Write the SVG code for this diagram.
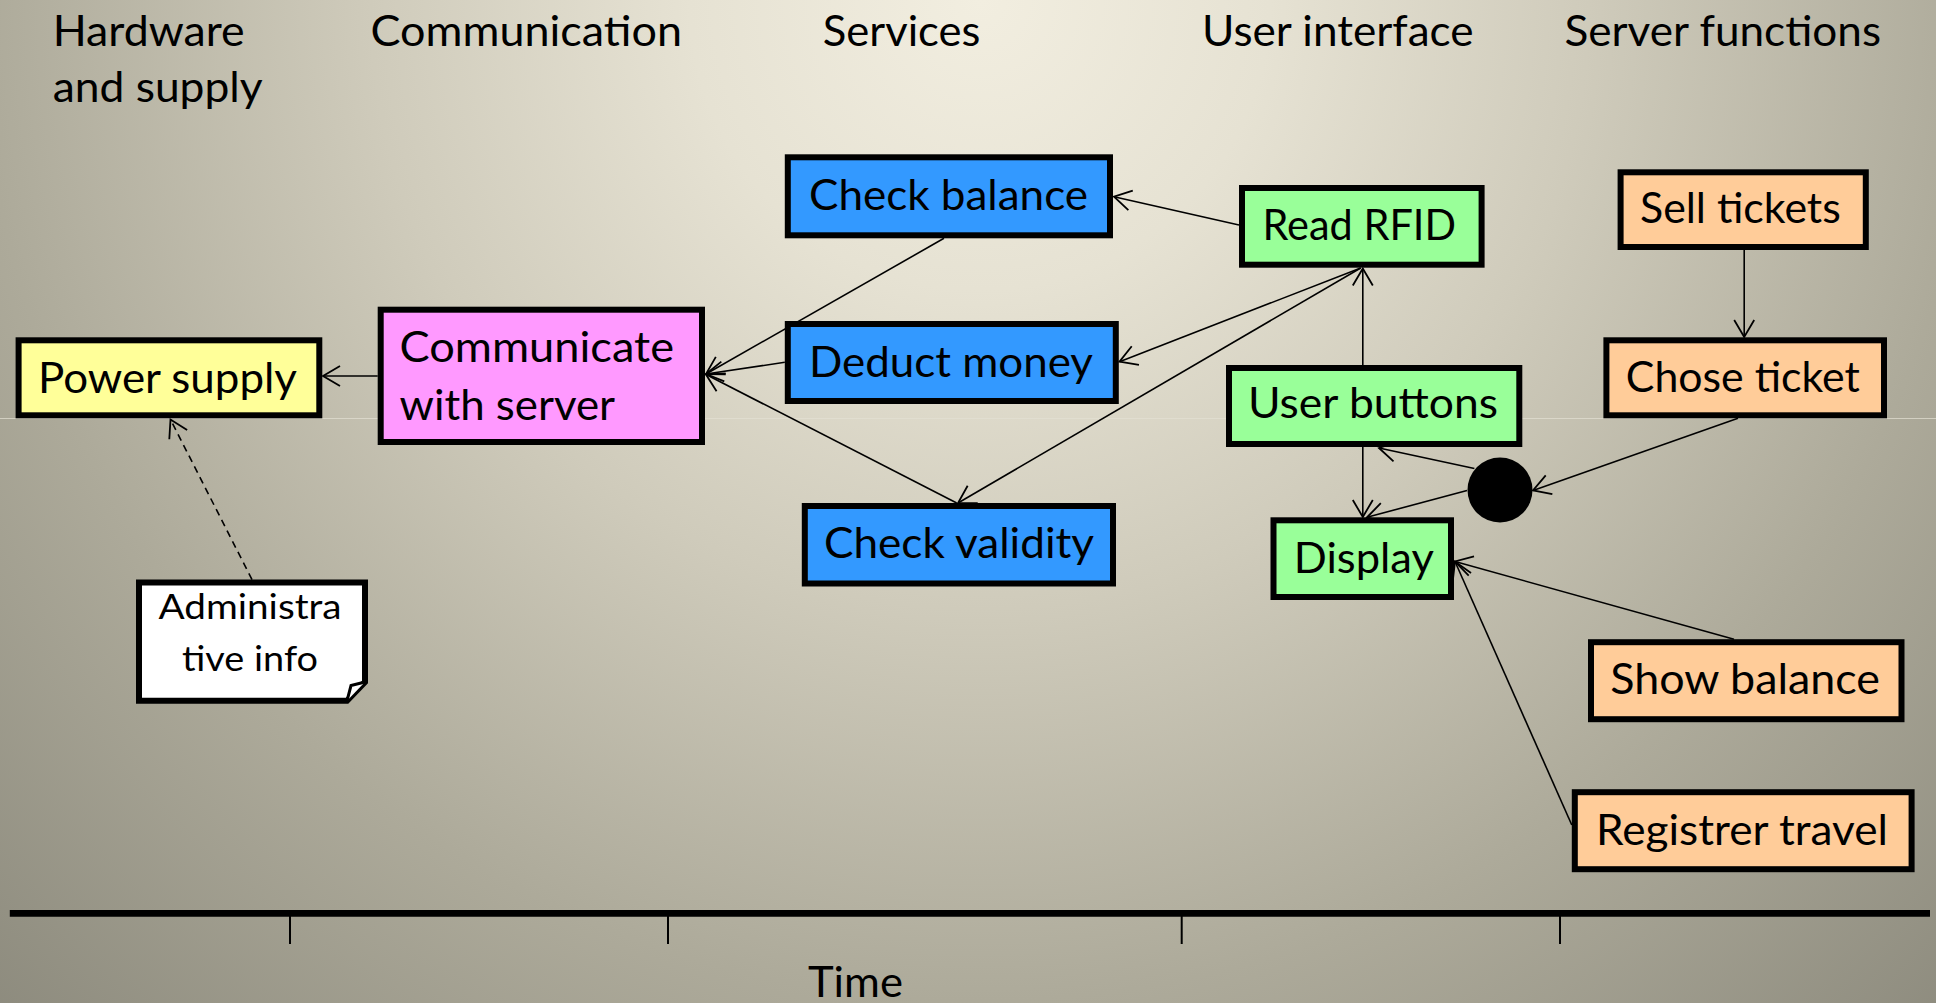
<svg xmlns="http://www.w3.org/2000/svg" width="1936" height="1003" viewBox="0 0 1936 1003">
<defs>
<radialGradient id="bg" gradientUnits="userSpaceOnUse" cx="980" cy="0" r="1450">
<stop offset="0" stop-color="#F2EEE0"/>
<stop offset="0.2" stop-color="#E6E2D3"/>
<stop offset="0.42" stop-color="#CFCBBB"/>
<stop offset="0.69" stop-color="#ADAA9A"/>
<stop offset="1" stop-color="#8A887B"/>
</radialGradient>
<marker id="arr" markerUnits="userSpaceOnUse" viewBox="0 0 20 24" markerWidth="20" markerHeight="24" refX="18" refY="12" orient="auto">
<path d="M1,2 L18,12 L1,22" fill="none" stroke="#000" stroke-width="1.8"/>
</marker>
<style>
.t{font-family:Lato,"Liberation Sans",sans-serif;font-size:42px;fill:#000}
.s{font-family:Lato,"Liberation Sans",sans-serif;font-size:35px;fill:#000}
.box{stroke:#000;stroke-width:6}
.y{fill:#FFFF99}.p{fill:#FF99FF}.b{fill:#3399FF}.g{fill:#99FF99}.o{fill:#FFCC99}
.c{fill:none;stroke:#000;stroke-width:1.6;marker-end:url(#arr)}
</style>
</defs>
<rect x="0" y="0" width="1936" height="1003" fill="url(#bg)"/>
<line x1="0" y1="418.5" x2="1936" y2="418.5" stroke="#E4E1D4" stroke-width="1" opacity="0.7"/>

<g id="headers">
<text class="t" x="52.7" y="46" textLength="192" lengthAdjust="spacingAndGlyphs">Hardware</text>
<text class="t" x="52.7" y="102" textLength="210" lengthAdjust="spacingAndGlyphs">and supply</text>
<text class="t" x="370.5" y="46" textLength="311.5" lengthAdjust="spacingAndGlyphs">Communication</text>
<text class="t" x="822.8" y="46" textLength="157.6" lengthAdjust="spacingAndGlyphs">Services</text>
<text class="t" x="1202" y="46" textLength="271.6" lengthAdjust="spacingAndGlyphs">User interface</text>
<text class="t" x="1564.5" y="46" textLength="316.5" lengthAdjust="spacingAndGlyphs">Server functions</text>
</g>

<g id="timeline">
<line x1="9.8" y1="913.3" x2="1930" y2="913.3" stroke="#000" stroke-width="6.7"/>
<g stroke="#000" stroke-width="2">
<line x1="290" y1="916" x2="290" y2="944"/>
<line x1="668" y1="916" x2="668" y2="944"/>
<line x1="1181.7" y1="916" x2="1181.7" y2="944"/>
<line x1="1560" y1="916" x2="1560" y2="944"/>
</g>
<text class="t" x="808" y="996.7" textLength="95" lengthAdjust="spacingAndGlyphs">Time</text>
</g>

<g id="connectors">
<line class="c" x1="377.7" y1="376" x2="323" y2="376"/>
<line class="c" x1="1239" y1="225" x2="1114" y2="196.7"/>
<line class="c" x1="944" y1="238.3" x2="706" y2="374"/>
<line class="c" x1="784.8" y1="362.3" x2="706" y2="374"/>
<line class="c" x1="956.7" y1="503" x2="706" y2="374.5"/>
<line class="c" x1="1360.7" y1="268" x2="1119.5" y2="361.7"/>
<line class="c" x1="1360.7" y1="268" x2="958" y2="503"/>
<line class="c" x1="1362.8" y1="365" x2="1362.8" y2="268.5"/>
<line class="c" x1="1744.2" y1="250" x2="1744.2" y2="337"/>
<line class="c" x1="1738" y1="418.3" x2="1533" y2="490.4"/>
<line class="c" x1="1474.4" y1="468.5" x2="1379" y2="448"/>
<line class="c" x1="1467" y1="490.4" x2="1367" y2="517.3"/>
<line class="c" x1="1362.8" y1="447" x2="1362.8" y2="517"/>
<line class="c" x1="1734" y1="639.2" x2="1455" y2="561.5"/>
<line class="c" x1="1571.8" y1="825" x2="1455" y2="561.5"/>
<line class="c" x1="252" y1="579.6" x2="170.5" y2="419.5" stroke-dasharray="7,5"/>
</g>

<g id="power-supply">
<rect class="box y" x="18.6" y="340.3" width="300.7" height="75"/>
<text class="t" x="38" y="393" textLength="259" lengthAdjust="spacingAndGlyphs">Power supply</text>
</g>
<g id="communicate">
<rect class="box p" x="380.7" y="309.7" width="321.3" height="132.3"/>
<text class="t" x="399.5" y="361.7" textLength="274.5" lengthAdjust="spacingAndGlyphs">Communicate</text>
<text class="t" x="399.5" y="420" textLength="215.5" lengthAdjust="spacingAndGlyphs">with server</text>
</g>
<g id="check-balance">
<rect class="box b" x="787.8" y="157.3" width="322.2" height="78"/>
<text class="t" x="809" y="210" textLength="279" lengthAdjust="spacingAndGlyphs">Check balance</text>
</g>
<g id="deduct-money">
<rect class="box b" x="787.8" y="324" width="328" height="77"/>
<text class="t" x="809" y="377" textLength="284" lengthAdjust="spacingAndGlyphs">Deduct money</text>
</g>
<g id="check-validity">
<rect class="box b" x="804.8" y="506" width="308.2" height="77.5"/>
<text class="t" x="824" y="557.7" textLength="270" lengthAdjust="spacingAndGlyphs">Check validity</text>
</g>
<g id="read-rfid">
<rect class="box g" x="1242" y="188" width="239.6" height="76.7"/>
<text class="t" x="1262.5" y="240" textLength="193.5" lengthAdjust="spacingAndGlyphs">Read RFID</text>
</g>
<g id="user-buttons">
<rect class="box g" x="1229" y="368" width="290.3" height="76"/>
<text class="t" x="1248" y="418" textLength="250" lengthAdjust="spacingAndGlyphs">User buttons</text>
</g>
<g id="display">
<rect class="box g" x="1273.5" y="520.3" width="177.5" height="76.7"/>
<text class="t" x="1293.8" y="573" textLength="140" lengthAdjust="spacingAndGlyphs">Display</text>
</g>
<g id="junction">
<circle cx="1500" cy="490" r="32.5" fill="#000"/>
</g>
<g id="sell-tickets">
<rect class="box o" x="1620.6" y="172.3" width="245.2" height="74.7"/>
<text class="t" x="1640" y="222.7" textLength="200.8" lengthAdjust="spacingAndGlyphs">Sell tickets</text>
</g>
<g id="chose-ticket">
<rect class="box o" x="1606.4" y="340.3" width="277.6" height="75"/>
<text class="t" x="1625.8" y="391.7" textLength="234" lengthAdjust="spacingAndGlyphs">Chose ticket</text>
</g>
<g id="show-balance">
<rect class="box o" x="1591" y="642.2" width="310.5" height="77"/>
<text class="t" x="1610.3" y="694" textLength="269.7" lengthAdjust="spacingAndGlyphs">Show balance</text>
</g>
<g id="registrer-travel">
<rect class="box o" x="1574.8" y="792.2" width="336.8" height="77"/>
<text class="t" x="1596" y="845.4" textLength="292" lengthAdjust="spacingAndGlyphs">Registrer travel</text>
</g>
<g id="admin-note">
<path d="M139,582.6 H365 V682 L347,700.8 H139 Z" fill="#FFFFFF" stroke="#000" stroke-width="6" stroke-linejoin="miter"/>
<path d="M365,682 L351,685.5 L347,700.8" fill="#FFFFFF" stroke="#000" stroke-width="3"/>
<text class="s" x="158.5" y="619" textLength="183" lengthAdjust="spacingAndGlyphs">Administra</text>
<text class="s" x="182" y="671" textLength="136" lengthAdjust="spacingAndGlyphs">tive info</text>
</g>
</svg>
